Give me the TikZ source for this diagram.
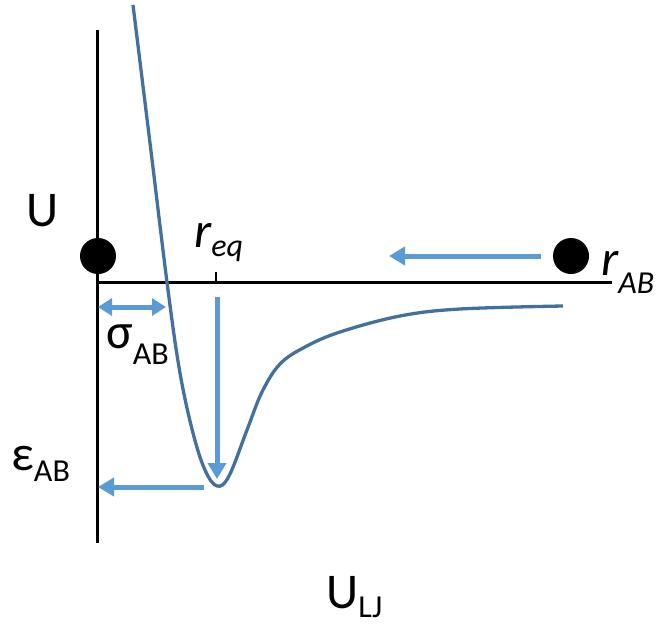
\documentclass[tikz,border=0pt]{standalone}
\usepackage{fontspec}
\setmainfont{Carlito}
\usetikzlibrary{arrows.meta}
\definecolor{curveblue}{HTML}{41719C}
\definecolor{arrowblue}{HTML}{5B9BD5}
\newcommand{\bigfs}{\fontsize{50}{50}\selectfont}
\newcommand{\subfs}{\fontsize{32}{32}\selectfont}
\begin{document}
\begin{tikzpicture}[x=1pt,y=-1pt,
  axis/.style={line width=3pt,black},
  curve/.style={line width=3.3pt,curveblue},
  bluearrow/.style={line width=5pt,arrowblue,-{Triangle[length=16pt,width=18pt]}},
  dblarrow/.style={line width=5pt,arrowblue,{Triangle[length=14pt,width=17pt]}-{Triangle[length=14pt,width=17pt]}},
  dot/.style={circle,fill=black,inner sep=0pt,minimum size=36pt},
  lbl/.style={anchor=base west,inner sep=0pt}]
\useasboundingbox (0,0) rectangle (657,624);
% axes
\coordinate (vtop) at (97,30);
\coordinate (vbot) at (97,543);
\coordinate (hl) at (97,282);
\coordinate (hr) at (612,282);
\draw[axis] (vtop) -- (vbot);
\draw[axis] (hl) -- (hr);
% dots
\node[dot] (dl) at (98,256) {};
\node[dot] (dr) at (571,256) {};
% tick
\coordinate (tk1) at (216,272);
\coordinate (tk2) at (216,282);
\draw[line width=2.8pt] (tk1) -- (tk2);
% curve
\draw[curve] plot[smooth,tension=0.6] coordinates {(133,5) (150,143) (168,290) (180,373) (193,433) (205,470) (217,486) (229,476) (247,430) (262,392) (280,364) (305,347) (340,332) (400,316) (460,309) (563,306)};
% arrows
\coordinate (a1s) at (541,256);
\coordinate (a1e) at (389,256);
\draw[bluearrow] (a1s) -- (a1e);
\coordinate (a2s) at (217,297);
\coordinate (a2e) at (217,479);
\draw[bluearrow] (a2s) -- (a2e);
\coordinate (a3s) at (204,487);
\coordinate (a3e) at (98,487);
\draw[bluearrow] (a3s) -- (a3e);
\coordinate (a4s) at (98,307);
\coordinate (a4e) at (166,307);
\draw[dblarrow] (a4s) -- (a4e);
% labels
\node[lbl] (U) at (26,226) {\bigfs U};
\node[lbl] (req) at (194,247) {\bigfs\itshape r\raisebox{-9pt}{\subfs eq}};
\node[lbl] (rab) at (601,275) {\bigfs\itshape r\raisebox{-18pt}{\subfs AB}};
\node[lbl] (sab) at (106,348) {\bigfs σ\raisebox{-16pt}{\subfs AB}};
\node[lbl] (eab) at (11,470) {\bigfs ε\raisebox{-11pt}{\subfs AB}};
\node[lbl] (ulj) at (326,608) {\bigfs U\raisebox{-9pt}{\subfs LJ}};
\end{tikzpicture}
\end{document}
